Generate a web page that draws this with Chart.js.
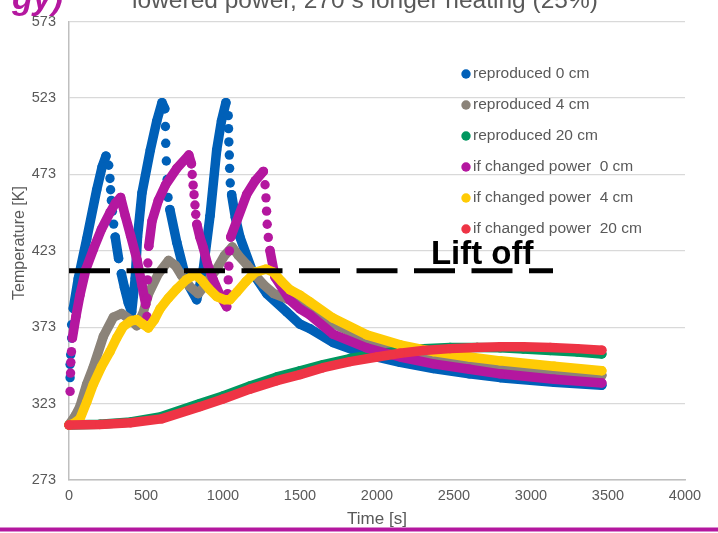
<!DOCTYPE html>
<html>
<head>
<meta charset="utf-8">
<script src="https://cdn.jsdelivr.net/npm/chart.js@4.4.1/dist/chart.umd.min.js"></script>
<style>
  html, body { margin: 0; padding: 0; background: #fff; }
  #wrap { width: 718px; height: 533px; position: relative; }
</style>
</head>
<body>
<div id="wrap"><canvas id="chart" width="718" height="533"></canvas></div>
<script>
// [time s, temperature K]
const rep0 = [[7,340],[7,348.6],[11,355],[17,365.9],[17,374.6],[28,385.3],[60,404.8],[115,430.7],[180,463],[215,478],[240,485],
  [258,479],[266,470.4],[270,463],[275,456],[282,449],[290,440.5],[300,432],[322,418],[340,408],[360,399],[385,389],[407,383],
  [430,405],[445,432],[474,461],[528,489],[570,508],[604,520],
  [622,516],[626,504.4],[628,493.4],[632,481.8],[637,469.7],[643,458],[655,450],[700,428.5],[765,402.6],[829,391],
  [872,411],[916,446],[959,489],[990,508],[1019,520],
  [1034,511.5],[1036,503],[1038,494.3],[1041,485.7],[1043,477],[1047,467.4],[1056,459.8],[1080,445],[1110,432],[1197,408],
  [1284,395],[1414,383],[1500,375],[1565,372],[1714,363],[1933,355],[2150,350],[2366,346],[2600,342.5],[2800,340],[3150,337],[3460,335]];
const rep4 = [[0,309],[40,315],[71,321],[115,335.7],[158,347],[223,367],[288,379.5],[342,382],[390,378.5],[440,374],[480,382],
  [517,395],[580,408],[647,416.7],[690,413.5],[730,407],[780,400],[839,395],[880,400],[920,406],[959,411],[1010,420],[1060,425.5],
  [1100,420],[1154,414],[1210,407],[1262,401],[1330,395],[1420,391.5],[1500,389],[1565,385],[1714,375.5],[1933,365],[2150,359],
  [2366,354],[2600,350.5],[2800,348],[3150,344.5],[3460,341.5]];
const rep20 = [[0,309],[200,309.5],[400,311],[600,314.5],[850,323],[1000,328],[1175,334.5],[1350,340.5],[1500,344.5],[1650,348.5],
  [1825,352.5],[2000,355.5],[2150,357.5],[2300,359],[2475,359.8],[2650,359.8],[2800,359.5],[2950,358.8],[3125,357.8],[3300,356.8],[3460,355.5]];
const chg0 = [[7,331],[10,343],[12,350],[16,357],[22,366],[45,380],[71,394],[110,411],[158,424],[210,437],[266,448],[300,454],[335,458],
  [365,446],[400,433],[442,417],[475,400],[498,388],[506,380],
  [508,392],[510,404],[512,415],[518,426],[539,442.5],[580,456],[626,466],[700,477],[778,485.7],
  [795,480],[800,473],[806,466],[812,459.8],[818,453],[823,446.9],[830,440.4],[850,432],[872,425],[900,414],[937,404],[980,394],[1024,386.4],
  [1030,395],[1034,404],[1038,413],[1042,423],[1050,432],[1089,442.5],[1154,460],[1210,469],[1262,475],
  [1273,466.3],[1279,457.7],[1283,449],[1287,440.4],[1294,431.8],[1305,423.2],[1338,405.8],[1435,390.7],[1500,385],[1565,381],
  [1714,368.5],[1933,359.5],[2150,353.5],[2366,349],[2600,345.5],[2800,342.5],[3150,339],[3460,336.5]];
const chg4 = [[0,309],[30,310],[71,313],[115,324],[158,335.7],[210,347],[266,357],[310,366],[353,373.5],[400,377],[440,378],[480,375],
  [515,372.5],[555,378],[591,385],[645,392],[699,398],[760,404],[818,407.5],[860,404],[910,398],[960,393],[1010,391],[1045,391],
  [1090,396],[1150,403],[1210,409],[1280,411],[1327,409],[1380,403],[1435,397.5],[1500,394],[1565,389.5],[1714,379],[1933,368],
  [2150,361.5],[2366,357],[2600,353.5],[2800,351],[3150,347.5],[3460,344.5]];
const chg20 = [[0,309],[200,309.3],[400,310.5],[600,313],[850,321],[1000,326],[1175,332.5],[1350,338],[1500,342],[1650,346.5],
  [1825,350.5],[2000,353.5],[2150,356],[2300,357.8],[2475,359],[2650,359.8],[2800,360.2],[2950,360.2],[3125,359.8],[3300,359],[3460,358]];

const seriesNames = ['reproduced 0 cm', 'reproduced 4 cm', 'reproduced 20 cm',
  'if changed power  0 cm', 'if changed power  4 cm', 'if changed power  20 cm'];
const seriesData = [rep0, rep4, rep20, chg0, chg4, chg20];
const seriesColors = ['#0060B8', '#8B8379', '#00975F', '#B4179F', '#FFCB05', '#EE3445'];

const liftOff = 410;
const liftX = [0, 3143];
const yTicks = [273, 323, 373, 423, 473, 523, 573];
const titleText = 'lowered power, 270 s longer heating (25%)';

const FONT = '"Liberation Sans", Arial, sans-serif';
const GREY = '#595959';

// steep parts of the curves show up as separate dots, so leave those segments out
const gapSeg = ctx => {
  const dx = Math.abs(ctx.p1.x - ctx.p0.x);
  const dy = Math.abs(ctx.p1.y - ctx.p0.y);
  return (dx < 3 && dy > 9 && dy < 26) ? 'rgba(0,0,0,0)' : undefined;
};

const datasets = seriesData.map((d, i) => ({
  label: seriesNames[i],
  data: d.map(p => ({ x: p[0], y: p[1] })),
  showLine: true,
  borderColor: seriesColors[i],
  backgroundColor: seriesColors[i],
  borderWidth: 9.5,
  borderCapStyle: 'round',
  borderJoinStyle: 'round',
  pointRadius: 4.7,
  pointBorderWidth: 0,
  pointBackgroundColor: seriesColors[i],
  segment: { borderColor: gapSeg },
  order: 6 - i,
  clip: 8
}));

datasets.push({
  label: 'Lift off',
  data: liftX.map(x => ({ x: x, y: liftOff })),
  showLine: true,
  borderColor: '#000',
  borderWidth: 5,
  borderDash: [41, 16.5],
  borderCapStyle: 'butt',
  pointRadius: 0,
  order: 0
});

const extras = {
  id: 'extras',
  afterDraw(chart) {
    const c = chart.ctx;
    const xs = chart.scales.x, ys = chart.scales.y;
    c.save();

    // slide title, cut off at the top edge
    c.fillStyle = GREY;
    c.font = '24.5px ' + FONT;
    c.textAlign = 'center';
    c.textBaseline = 'alphabetic';
    c.fillText(titleText, 365, 8);

    c.fillStyle = '#B4179F';
    c.font = 'italic bold 34px ' + FONT;
    c.textAlign = 'right';
    c.fillText('gy)', 63, 9);

    // y axis title
    c.save();
    c.translate(19.5, 243);
    c.rotate(-Math.PI / 2);
    c.fillStyle = GREY;
    c.font = '16px ' + FONT;
    c.textAlign = 'center';
    c.textBaseline = 'middle';
    c.fillText('Temperature [K]', 0, 0);
    c.restore();

    // lift off label
    c.fillStyle = '#000';
    c.font = 'bold 33px ' + FONT;
    c.textAlign = 'left';
    c.fillText('Lift off', xs.getPixelForValue(2350), ys.getPixelForValue(liftOff) - 7);

    // legend
    c.font = '15.5px ' + FONT;
    c.textBaseline = 'middle';
    seriesNames.forEach((name, i) => {
      const y = 74 + i * 31;
      c.fillStyle = seriesColors[i];
      c.beginPath();
      c.arc(466, y, 4.7, 0, Math.PI * 2);
      c.fill();
      c.fillStyle = GREY;
      c.fillText(name, 473, y);
    });

    // slide rule at the bottom
    c.fillStyle = '#B4179F';
    c.fillRect(0, 527.5, 718, 4);
    c.restore();
  }
};

new Chart(document.getElementById('chart'), {
  type: 'scatter',
  data: { datasets: datasets },
  options: {
    responsive: false,
    animation: false,
    events: [],
    layout: { padding: { top: 17, right: 33, left: 0, bottom: 0 } },
    plugins: { legend: { display: false }, tooltip: { enabled: false }, title: { display: false } },
    scales: {
      x: {
        type: 'linear',
        min: 0,
        max: 4000,
        ticks: { stepSize: 500, color: GREY, font: { family: FONT, size: 14.5 }, padding: 7, callback: v => String(v) },
        grid: { display: false, drawTicks: false },
        border: { display: true, color: '#BFBFBF', width: 1.5 },
        title: { display: true, text: 'Time [s]', color: GREY, font: { family: FONT, size: 17 }, padding: { top: 0, bottom: 3 } },
        afterFit: s => { s.height = 53; }
      },
      y: {
        type: 'linear',
        min: 273,
        max: 573,
        afterBuildTicks: s => { s.ticks = yTicks.map(v => ({ value: v })); },
        ticks: { color: GREY, font: { family: FONT, size: 14.5 }, padding: 13, callback: v => String(v) },
        grid: { color: '#D9D9D9', lineWidth: 1.2, drawTicks: false },
        border: { display: true, color: '#BFBFBF', width: 1.5 },
        title: { display: false },
        afterFit: s => { s.width = 69; }
      }
    }
  },
  plugins: [extras]
});
</script>
</body>
</html>
